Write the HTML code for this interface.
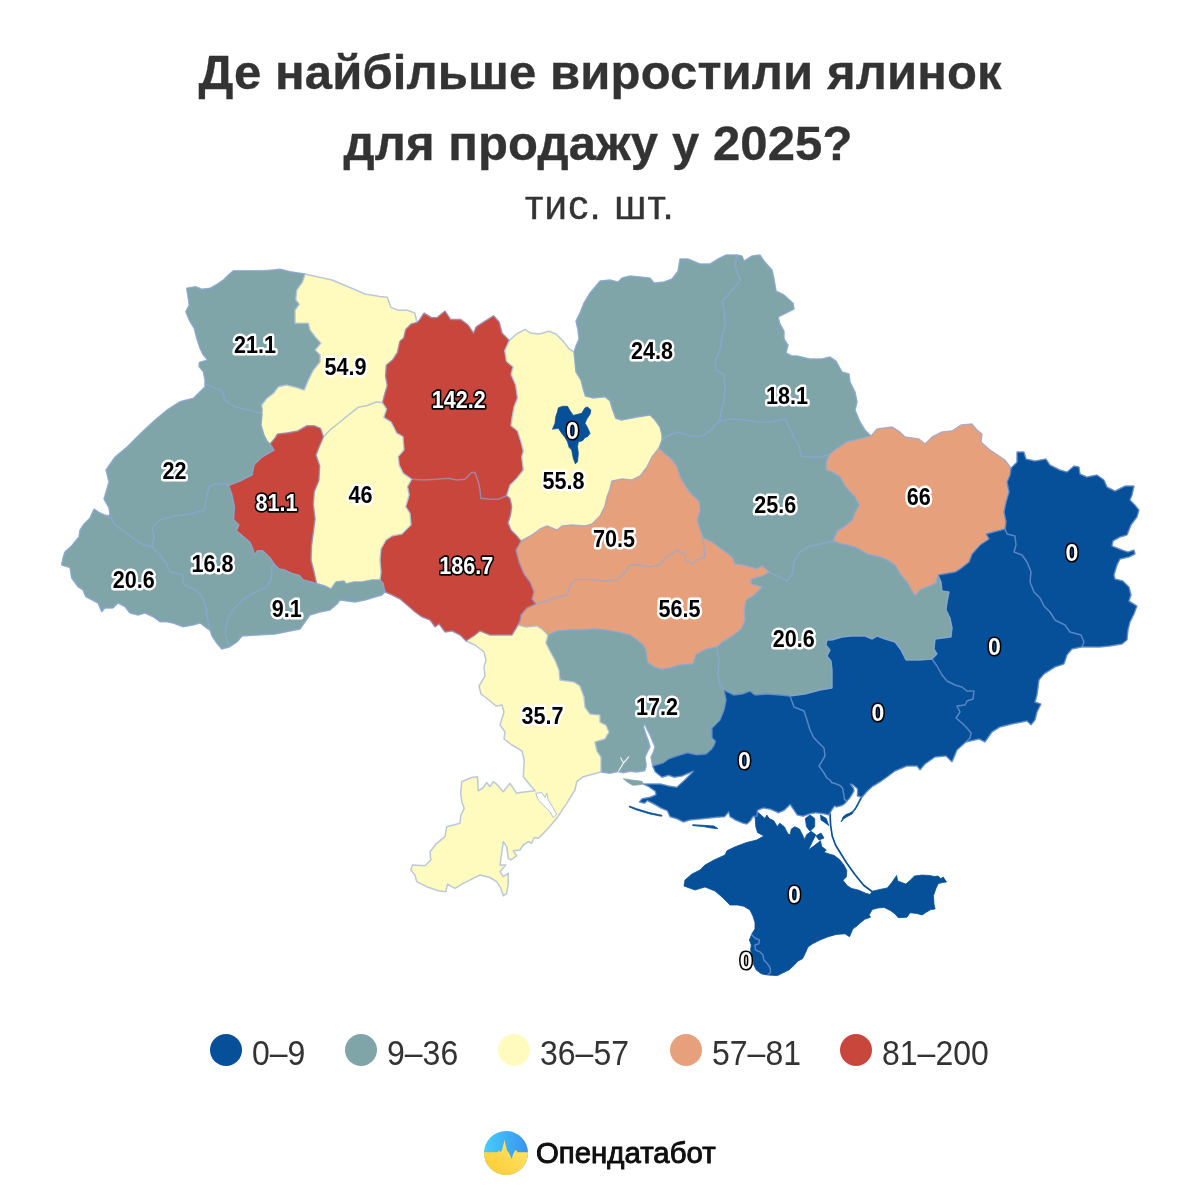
<!DOCTYPE html>
<html lang="uk">
<head>
<meta charset="utf-8">
<title>Де найбільше виростили ялинок для продажу у 2025?</title>
<style>
html,body{margin:0;padding:0;background:#fff;}
body{width:1200px;height:1200px;position:relative;overflow:hidden;font-family:"Liberation Sans",sans-serif;color:#333;}
.title{position:absolute;left:0;width:1200px;text-align:center;font-weight:bold;font-size:49px;line-height:70px;color:#333;white-space:nowrap;-webkit-text-stroke:0.35px #333;}
.t1{top:37px;letter-spacing:0.12px;}
.t2{top:107.5px;left:-2px;letter-spacing:0.1px;}
.sub{position:absolute;left:0;width:1200px;top:180px;text-align:center;letter-spacing:1.25px;font-size:40px;-webkit-text-stroke:0.4px #333;line-height:50px;color:#333;}
.leg{position:absolute;top:1038px;height:32px;font-size:32px;line-height:32px;transform:scaleY(1.08);transform-origin:50% 78%;color:#333;white-space:nowrap;}
.dot{position:absolute;top:1034px;width:32px;height:32px;border-radius:50%;}
.brand{position:absolute;left:536px;top:1135.7px;font-size:29.4px;line-height:34px;color:#111;-webkit-text-stroke:0.9px #080808;white-space:nowrap;}
</style>
</head>
<body>
<div class="title t1">Де найбільше виростили ялинок</div>
<div class="title t2">для продажу у 2025?</div>
<div class="sub">тис. шт.</div>
<svg width="1200" height="1200" viewBox="0 0 1200 1200" style="position:absolute;left:0;top:0">
<g stroke-linejoin="round" stroke-width="0.8">
<path fill="#80a5a9" stroke="#80a5a9" d="M205,384L205,380 203.3,371.7 199.2,366.7 199.2,362.5 207.5,360 203.3,355 200,348.3 196.7,338.3 194.2,328.3 190,321.7 185.8,311.7 189.2,305 188.3,298.3 186.7,288.3 195.8,286.7 201.7,289.2 210,288.3 215.8,285 223.3,280 228.3,275 233.3,270.8 246.7,270.8 263.3,270.8 273.3,270 280,269.2 290,271.7 305,274 302.5,281.7 296.7,290 295.8,300 299.2,304.2 295,310 295,323.3 308.3,323.3 310,330 315,336.7 320.8,343.3 315,350 320,355 320,361.7 313.3,370 308.3,380 304.2,390 296.7,387.5 286.7,385 278.3,386.7 273.3,393.3 266.7,398.3 261.7,405 262.5,410 262,414 250,410 235,407 225,400 222,391Z"/>
<path fill="#fffbbf" stroke="#fffbbf" d="M305,274L332,280 350,287.5 365,294 380,296.4 387.3,297.3 391,307.4 398.3,310.2 407.5,310.2 414.8,313 416,318 416.7,322.5 411,324 405.7,329.4 403.8,337.7 400,341 397.4,352.4 392.8,359.7 386.4,365 385.5,376 387.3,385.4 384.6,394.5 382.5,402.8 376.6,401.8 367.4,405.5 358.2,407.3 349,414.7 339.9,422 330.7,429.3 323.4,437 320.6,428.4 314.2,425.7 306.9,425.7 297.7,431 286.7,433 277.5,434 275,438 270,444 267,441 264,435 261,425 262,414 262.5,410 261.7,405 266.7,398.3 273.3,393.3 278.3,386.7 286.7,385 296.7,387.5 304.2,390 308.3,380 313.3,370 320,361.7 320,355 315,350 320.8,343.3 315,336.7 310,330 308.3,323.3 295,323.3 295,310 299.2,304.2 295.8,300 296.7,290 302.5,281.7Z"/>
<path fill="#c9463d" stroke="#c9463d" d="M416.7,322.5L419.4,320 424,313 431.4,317.5 437,317.5 445,311 450.6,319.4 460.7,319.4 468,324.8 473.5,333 476.3,326.7 483.6,322 493.7,315.7 499.2,322 502,333 509.3,340.4 504.7,350.5 506.5,361.5 513,367 511,374.3 515.7,385.3 517.5,398 514,407 512,418 511,425.7 517.5,431 521,442 523.3,451 521.7,456.7 523.3,470 516.7,478.3 510,485 506.7,495.8 498.3,499.2 490,499.2 480.8,498.3 480,490 478.3,481.7 475,472.5 471.7,472.5 465,479.2 456.7,480 448.3,478.3 436.7,479.2 423.3,480 411.7,479.2 403.3,473.3 399.2,465 398.3,456.7 404,450 403,436.7 396.7,433 391.2,422 383.8,417.4 386.6,409 382.5,402.8 384.6,394.5 387.3,385.4 385.5,376 386.4,365 392.8,359.7 397.4,352.4 400,341 403.8,337.7 405.7,329.4 411,324Z"/>
<path fill="#fffbbf" stroke="#fffbbf" d="M509.3,340.4L516.6,334 525,329.4 530.4,333 539.5,334 548.7,331.3 556,334 563.4,341.4 569,348.7 574,352 575,362 576,372 581,380 583,388 585.4,396 593.3,397.9 605,396.7 610,400.8 612.5,409.2 615.8,418.3 621.7,420 637,417 650,415 655,420 660,427 662,435 662,440 659,448 652,457 647,467 640,476 632,480 622,479 612,481 610,489 607,497 605,506 600,516 592,524 585,526 572,525 562,526 557,530 547,526 540,529 532,535 521,541 517,536 511,530 508,523 510.5,515 511.7,506.7 510,498.3 506.7,495.8 510,485 516.7,478.3 523.3,470 521.7,456.7 523.3,451 521,442 517.5,431 511,425.7 512,418 514,407 517.5,398 515.7,385.3 511,374.3 513,367 506.5,361.5 504.7,350.5Z"/>
<path fill="#80a5a9" stroke="#80a5a9" d="M574,352L576,346 579,339 578,330 576,321 580,313 584,303 590,293 600,281 610,280 618,282 622,278 630,276 640,277 650,278 654,283 664,282 672,279 678,271 680,259 688,259 700,264 710,264 718,259 726,255 737,255 735,265 738,275 741,280 734,288 728,295 722,301 724,310 725,325 722,337 720,350 715,362 716,370 724,375 725,387 724,400 721,412 720,421 715,425 710,431 702,436 690,436 677,432 667,436 662,440 662,435 660,427 655,420 650,415 637,417 621.7,420 615.8,418.3 612.5,409.2 610,400.8 605,396.7 593.3,397.9 585.4,396 583,388 581,380 576,372 575,362Z"/>
<path fill="#80a5a9" stroke="#80a5a9" d="M737,255L742,256 744,261 752,256 760,255 764,261 772,270 774,279 776,291 784,295 793,303 794,309 786,313 778,317 780,324 784,331 784,339 788,345 786,353 792,356 797,356 810,359 822,359 830,357 836,361 842,372 849,374 850,382 855,392 857,402 855,410 860,422 865,430 871,436 860,439 847,442 835,450 829,455 820,457 810,457 801,456 799,446 794,437 789,427 786,419 780,420 770,422 757,422 745,420 732,419 720,421 721,412 724,400 725,387 724,375 716,370 715,362 720,350 722,337 725,325 724,310 722,301 728,295 734,288 741,280 738,275 735,265Z"/>
<path fill="#e6a17c" stroke="#e6a17c" d="M871,436L877,429 892,427 900,432 905,437 919,439 925,444 932,437 942,432 952,431 961,425 972,424 977,430 982,434 981,442 990,450 999,456 1005,460 1011,468 1010,475 1007,482 1009,492 1006,502 1004,512 1006,522 1005,529 997,531 986,534 989,539 980,545 972,554 969,562 960,569 955,572 938,575 936,583 930,586 920,590 915,596 912,591 907,582 900,574 895,565 887,560 880,557 867,554 855,547 842,544 833,541 837,531 845,526 852,520 855,512 859,505 855,497 850,492 845,486 840,477 832,472 826,470 826,462 829,455 835,450 847,442 860,439Z"/>
<path fill="#06509a" stroke="#06509a" d="M1011,468L1017,462 1017,452 1024,452 1026,459 1035,461 1046,459 1050,465 1060,470 1067,472 1074,466 1079,467 1080,474 1087,477 1097,475 1104,480 1107,487 1115,491 1125,486 1134,486 1132,495 1130,500 1135,505 1139,510 1137,517 1131,525 1127,535 1120,537 1113,541 1112,546 1122,550 1128,552 1134,550 1135,554 1129,557 1120,559 1117,565 1114,575 1115,579 1123,581 1129,587 1131,595 1129,601 1137,606 1134,614 1130,622 1128,630 1127,640 1122,644 1110,646 1100,647 1082,647 1084,642 1081,635 1070,632 1065,625 1055,620 1050,612 1044,606 1040,598 1034,592 1030,582 1031,572 1027,562 1022,555 1014,552 1016,545 1015,536 1007,534 1005,529 1006,522 1004,512 1006,502 1009,492 1007,482 1010,475Z"/>
<path fill="#06509a" stroke="#06509a" d="M1005,529L1007,534 1015,536 1016,545 1014,552 1022,555 1027,562 1031,572 1030,582 1034,592 1040,598 1044,606 1050,612 1055,620 1065,625 1070,632 1081,635 1084,642 1082,647 1072,649 1067,655 1064,664 1055,667 1044,674 1039,680 1037,695 1035,702 1041,704 1037,712 1035,720 1031,725 1027,721 1012,724 1000,727 992,732 985,742 979,739 966,742 970,738 971,733 967,728 962,723 956,718 960,712 957,706 965,705 967,701 973,699 974,691 967,691 962,687 955,685 947,681 942,675 937,666 932,659 937,654 934,649 935,639 951,637 952,628 950,618 946,610 947,602 949,592 942,591 941,582 938,575 955,572 960,569 969,562 972,554 980,545 989,539 986,534 997,531Z"/>
<path fill="#06509a" stroke="#06509a" d="M932,659L937,666 942,675 947,681 955,685 962,687 967,691 974,691 973,699 967,701 965,705 957,706 960,712 956,718 962,723 967,728 971,733 970,738 966,742 957,750 952,762 946,756 935,757 925,764 920,770 917,766 907,766 895,771 887,777 880,782 872.5,786.5 867.5,791 864,795 862,797.5 861,797 857.3,796 857.5,792.5 857.5,789 856,787.5 853,785 850.5,784 853.5,788 854,791 852,794.5 849.5,798.5 847,801 844.5,799.5 843.5,793 842.5,788 840,785.5 835,783.5 831.5,782.5 830,780 827,778 824,773 819,766 825,756 824,748 814,738 810,730 807,720 804,711 794,707 790,696 805,694 820,690 832,688 832,670 831,661 827,656 830,650 826,645 827,640 832,640 842,637 852,636 865,636 872,639 877,636 885,639 895,642 901,650 906,660 920,660Z"/>
<path fill="#80a5a9" stroke="#80a5a9" d="M833,541L842,544 855,547 867,554 880,557 887,560 895,565 900,574 907,582 912,591 915,596 920,590 930,586 936,583 938,575 941,582 942,591 949,592 947,602 946,610 950,618 952,628 951,637 935,639 934,649 937,654 932,659 920,660 906,660 901,650 895,642 885,639 877,636 872,639 865,636 852,636 842,637 832,640 827,640 826,645 830,650 827,656 831,661 832,670 832,688 820,690 805,694 790,696 780,695 767,694 755,695 750,691 742,694 734,695 724,690 720,685 718,675 719,661 717,647 722,642 732,636 741,629 745,620 744,610 746,600 755,594 762,587 751,584 751,579 762,576 769,572 777,576 787,581 792,575 794,561 800,552 810,546 820,544Z"/>
<path fill="#80a5a9" stroke="#80a5a9" d="M720,421L732,419 745,420 757,422 770,422 780,420 786,419 789,427 794,437 799,446 801,456 810,457 820,457 829,455 826,462 826,470 832,472 840,477 845,486 850,492 855,497 859,505 855,512 852,520 845,526 837,531 833,541 820,544 810,546 800,552 794,561 792,575 787,581 777,576 769,572 762,566 757,569 750,567 742,565 735,564 732,557 725,552 717,546 710,541 703,538 700,530 697,520 700,510 699,501 692,495 686,487 680,477 677,467 672,460 665,454 659,448 662,440 667,436 677,432 690,436 702,436 710,431 715,425Z"/>
<path fill="#e6a17c" stroke="#e6a17c" d="M521,541L532,535 540,529 547,526 557,530 562,526 572,525 585,526 592,524 600,516 605,506 607,497 610,489 612,481 622,479 632,480 640,476 647,467 652,457 659,448 665,454 672,460 677,467 680,477 686,487 692,495 699,501 700,510 697,520 700,530 703,538 704,547 705,557 697,560 692,564 686,560 685,554 676,550 672,554 666,557 660,565 650,567 640,565 630,565 625,572 617,580 605,581 595,580 585,579 575,580 570,586 567,595 557,597 547,601 536,604 532,599 534,592 530,582 524,574 519,562 516,550Z"/>
<path fill="#e6a17c" stroke="#e6a17c" d="M536,604L547,601 557,597 567,595 570,586 575,580 585,579 595,580 605,581 617,580 625,572 630,565 640,565 650,567 660,565 666,557 672,554 676,550 685,554 686,560 692,564 697,560 705,557 704,547 703,538 710,541 717,546 725,552 732,557 735,564 742,565 750,567 757,569 762,566 769,572 762,576 751,579 751,584 762,587 755,594 746,600 744,610 745,620 741,629 732,636 722,642 717,647 706,649.3 696,654.8 693.2,664 685,664.5 676.7,665.8 670,668 662,669.5 654,667 647.4,662.2 646.5,656 645.6,650 643,645 637,640 630,635 617,632 605,630 595,629 582,630 570,630 557,631 548,635 543,630 537,626 526,627 518,625 520,621 521,615 527,608Z"/>
<path fill="#80a5a9" stroke="#80a5a9" d="M548,635L557,631 570,630 582,630 595,629 605,630 617,632 630,635 637,640 643,645 645.6,650 646.5,656 647.4,662.2 654,667 662,669.5 670,668 676.7,665.8 685,664.5 693.2,664 696,654.8 706,649.3 717,647 719,661 718,675 720,685 724,690 726,700 724,710 720,720 712,728 712,738 715.3,741.3 714,745.3 711.3,749.3 706,754 696.7,754.7 687.3,752.7 676.7,756 668.7,758.7 663.3,762.7 652.7,766 651,757 653.5,752 655,746.7 652.5,741 650,735 647,729 644.5,723.5 643.5,727 646,735 648.5,741.3 650,746.7 647.3,752 645,757.3 646,764 646,766.7 644.7,770.7 636.7,772 630,771.3 623.3,772.7 618,771.5 610,773.3 601,772 601,757 597,751 595,742 605,739 609,732 606,725 600,722 600,715 590,714 585,707 584,697 580,686 574,682 560,680 559,670 555,660 550,651 546,643Z"/>
<path fill="#06509a" stroke="#06509a" d="M724,690L734,695 742,694 750,691 755,695 767,694 780,695 790,696 794,707 804,711 807,720 810,730 814,738 824,748 825,756 819,766 824,773 827,778 830,780 831.5,782.5 835,783.5 840,785.5 842.5,788 843.5,793 844.5,799.5 847,801 845,803.5 842,805.5 836.5,807 834.5,806 832.5,809 830,813 828.7,815 824,813.8 815.8,812.7 810,813.8 803,816.2 797.2,815 792.5,808 790.2,804.5 784.3,810.3 778.5,812.7 770.3,809.2 763.3,808 757.5,810.3 757,816 753,816.5 750.5,820.8 747,824 743.3,823.3 735.3,820 730,816.7 728.7,812 724.7,816.7 716.7,817.3 703.3,818.7 690,820 683.3,822 676.7,818.7 670,816.7 667.3,810.7 660.7,808 654,804 647.3,800.7 644.7,803.3 639.3,802 642,798.7 650,797.3 656,794.7 655.3,791.3 648.7,786.7 643.3,784 652.7,784 660.7,784 668.7,786 676.7,787.3 684.7,780 693.3,771.3 682,776 674,777.3 668.7,775.3 662,777.3 655.3,772 652.7,766 663.3,762.7 668.7,758.7 676.7,756 687.3,752.7 696.7,754.7 706,754 711.3,749.3 714,745.3 715.3,741.3 712,738 712,728 720,720 724,710 726,700Z"/>
<path fill="#fffbbf" stroke="#fffbbf" d="M466,641L475,635 480,631 490,635 500,635 512,635 515,630 518,625 526,627 537,626 543,630 548,635 546,643 550,651 555,660 559,670 560,680 574,682 580,686 584,697 585,707 590,714 600,715 600,722 606,725 609,732 605,739 595,742 597,751 601,757 601,772 583.3,776.7 576.7,781.7 575,790 566.7,803.3 556.7,818.3 546.7,830 538.3,838.3 534.2,837.5 531.7,843.3 528.3,841.7 523.3,845 520,850 513.3,850.8 516.7,855.8 510.8,860 508.3,858.3 506.7,846.7 503.3,841.7 501.7,853.3 500,865 505.8,865 500,871.7 503.3,876.7 508.3,873.3 508.3,883.3 506.7,893.3 503.3,895.8 500.8,888.3 496.7,881.7 490,877.5 480,875 471.7,879.2 463.3,883.3 455,888.3 447.5,884.2 445.8,891.7 438.3,890.8 426.7,886.7 416.7,881.7 415,875 410.8,870 412.5,865 425,865.8 430.8,860 430,851.7 436.7,843.3 445,836.7 446.7,826.7 460,823.3 460.8,815 464.2,808.3 461.7,801.7 460.8,793.3 461.7,781.7 471.7,777.5 477.5,776.7 478.3,790.8 483.3,787.5 486.7,782.5 490,786.7 493.3,781.7 495.8,783.3 503.3,791.7 510,783.3 516.7,793.3 520,792.5 535,790.8 530,785 523.3,776.7 524.2,760 522,751 512,745 504,739 505,732 500,725 504,712 502,705 496,706 489,700 481,694 479,686 485,676 484,667 486,660 484,652 475,645Z"/>
<path fill="#c9463d" stroke="#c9463d" d="M411.7,479.2L423.3,480 436.7,479.2 448.3,478.3 456.7,480 465,479.2 471.7,472.5 475,472.5 478.3,481.7 480,490 480.8,498.3 490,499.2 498.3,499.2 506.7,495.8 510,498.3 511.7,506.7 510.5,515 508,523 511,530 517,536 521,541 516,550 519,562 524,574 530,582 534,592 532,599 536,604 527,608 521,615 520,621 518,625 515,630 512,635 500,635 490,635 480,631 475,635 466,641 460,635 452,631 445,632 439,624 435,627 430,620 422,617 415,612 407,605 400,599 392,595 385,592 384,588 383,583 380,580 381,572 380,560 381,549 386,540 392,536 402,534 411,525 410,513.3 405.8,506.7 409.2,495 407.5,486.7Z"/>
<path fill="#fffbbf" stroke="#fffbbf" d="M323.4,437L330.7,429.3 339.9,422 349,414.7 358.2,407.3 367.4,405.5 376.6,401.8 382.5,402.8 386.6,409 383.8,417.4 391.2,422 396.7,433 403,436.7 404,450 398.3,456.7 399.2,465 403.3,473.3 411.7,479.2 407.5,486.7 409.2,495 405.8,506.7 410,513.3 411,525 402,534 392,536 386,540 381,549 380,560 381,572 380,580 372,580 362,582 354,582 346,584 344,581 336,582 331,589 325,586 316.5,583.5 314,572 311,560 311.4,546.7 313.3,532 315,519 313.3,504.5 314.2,491.7 318.8,480.7 319.7,466 316,455 318.8,447.7Z"/>
<path fill="#c9463d" stroke="#c9463d" d="M270,444L275,438 277.5,434 286.7,433 297.7,431 306.9,425.7 314.2,425.7 320.6,428.4 323.4,437 318.8,447.7 316,455 319.7,466 318.8,480.7 314.2,491.7 313.3,504.5 315,519 313.3,532 311.4,546.7 311,560 314,572 316.5,583.5 310.5,581.8 303.2,580 299.5,575.4 292.2,573.6 284.8,570 279.3,569 274.5,564.5 270.2,558 262.8,550.7 257.3,550.7 254.6,555.3 252.8,548.8 250,542.4 242.7,536 236.3,530.5 239,525 233.5,519.5 234.4,506.7 231.7,493.8 228.5,485.5 240,481 252,475 254,465 262,457 274,450Z"/>
<path fill="#80a5a9" stroke="#80a5a9" d="M274.5,564.5L279.3,569 284.8,570 292.2,573.6 299.5,575.4 303.2,580 310.5,581.8 316.5,583.5 325,586 331,589 336,582 344,581 346,584 354,582 362,582 372,580 380,580 383,583 384,588 385,592 382,595 375,597 365,600 355,602 347,601 340,600 337,604 330,610 320,612 310,615 305,622 300,629 290,631 275,634 257,635 242,636 237,642 231,646 229,647 225.3,635 227,620.3 233.5,609.3 242.7,600 253.7,592.8 266.5,587.3 271,580 272,567Z"/>
<path fill="#80a5a9" stroke="#80a5a9" d="M228.5,485.5L231.7,493.8 234.4,506.7 233.5,519.5 239,525 236.3,530.5 242.7,536 250,542.4 252.8,548.8 254.6,555.3 257.3,550.7 262.8,550.7 270.2,558 274.5,564.5 272,567 271,580 266.5,587.3 253.7,592.8 242.7,600 233.5,609.3 227,620.3 225.3,635 229,647 221.7,649 216.7,643 212,636 210,630 207,617 206,607 202,597 195,589 184,585 182,574 170,572 167,565 160,555 152,547 154,537 152,527 160,520 175,516 190,514 205,510 206,500 209,487 215,484 225,484Z"/>
<path fill="#80a5a9" stroke="#80a5a9" d="M110,515L115,525 125,532 135,540 144,545 152,547 160,555 167,565 170,572 182,574 184,585 195,589 202,597 206,607 207,617 210,630 206.7,628 200,623 193,625 183,626.7 173,623 166.7,621.7 160,621.7 153,616.7 145,613 138,615 130,613 125,606.7 118,603 113,608 105,608 101.7,611.7 98,603 85.8,596.7 83,590 78,586.7 71.7,578 70,567.5 61.7,565 63,558 65,551.7 71.7,545.8 79,536.7 80,530 84,524 90,518 94,509 100,513 106.7,515.8Z"/>
<path fill="#80a5a9" stroke="#80a5a9" d="M110,515L109,508 104,499 109,482 106,470 115,457 127,447 142,432 155,420 167,410 180,401.7 193.3,398.3 200,391.7 205,386.7 205,384 222,391 225,400 235,407 250,410 262,414 261,425 264,435 267,441 270,444 274,450 262,457 254,465 252,475 240,481 228.5,485.5 225,484 215,484 209,487 206,500 205,510 190,514 175,516 160,520 152,527 154,537 152,547 144,545 135,540 125,532 115,525Z"/>
<path fill="#06509a" stroke="#06509a" d="M558.3,407.9L562.5,406.3 567.5,406.3 570,410.8 573.3,415.4 576.7,414.6 581.7,413.3 585,407.9 587.5,407 590.8,410 590,414.2 586.7,419.2 585,423.3 587.5,427.5 590,433.3 587.5,436.7 585,437.5 582.5,440.8 578.3,441.7 577.5,446.7 578.3,453.3 577.5,461.7 575.4,463.8 573.3,458.3 571.7,450 569.2,447.5 567.5,441.7 565,437.5 561.7,433.3 558.3,428.3 552.5,429.2 555,423.3 555.8,416.7 557.5,411.7Z"/>
<path fill="#06509a" stroke="#06509a" d="M753,816.5L757,816 757.5,812 761,815 765,818.5 766.8,815 769.2,818.5 773.8,820.8 777.3,826.7 779.7,823.2 784.3,826.7 787.8,833.7 790.2,834.8 791.3,829 794.8,826.7 799.5,829 803,836 804.8,839.5 806.5,834.8 811.2,831.3 815.8,834.8 812.3,841.8 808.3,850 814.7,845.3 820.5,840.7 821.7,846.5 826.3,850 824,852.3 830,854.3 834.3,855.4 839.8,859.8 844,865.2 846.8,870.6 846.3,877 843,880.3 847.3,885.8 851.7,888.5 858.2,890 865.8,893.3 870,894.5 872.3,891.2 879.8,889.5 887.4,887.9 891.8,882.5 896.6,875.5 897.7,880.9 905.8,884.1 910.2,880.3 914.5,876 922.1,875.1 929.7,875.5 934,876.5 938.3,876 940.5,878.7 943.2,877.1 946.5,882 942.7,882.5 938.3,883.6 936.2,887.9 933.5,895.5 934,904.2 935.1,909 930.8,909.6 925.3,912.8 922.1,915 916.7,913.4 910.2,912.8 906.9,917.2 898.3,917.7 895,913.9 890.7,910.7 884.2,907.4 877.7,908 872.3,909.6 869,915 870.6,917.2 864.7,919.3 859.3,923.7 857.1,925.8 852.8,929.1 849.5,936.7 845,933.8 836.3,934.4 827.5,936.9 820,940 812.5,943.8 808,946.9 805,953.8 802.5,958.8 798,961 793.8,965.6 788.8,970 782.5,973 777.5,975.6 767.5,975 761.3,973.8 756.3,970 753.8,965 752.5,957.5 750.6,950 751.3,945 749.4,940 751.9,933.8 755,928.8 755,922.5 753,916.3 750,910 743.8,906.3 737.5,905 730,905 722,897 715,891 705,887 695,890 684,886 685,880 692,874 700,870 705,865 714,860 725,855 727,850.7 735.3,846.7 746,842.7 756.7,840 763.9,836 757.5,832.5 755.8,826.7 755.2,817.3Z"/>
<path fill="#06509a" stroke="#06509a" d="M629.3,806L636.7,808.7 650,812.7 662,815.3 661.5,816.3 650,814 636.7,810 629.3,807Z"/>
<path fill="#06509a" stroke="#06509a" d="M692.7,824.7L703.3,825.3 714,826 718,828.7 711.3,828 703.3,826.6 692.7,825.6Z"/>
<path fill="#06509a" stroke="#06509a" d="M862,797.5L860,801 857.5,806 855,810 853,812.5 852,814 847.5,816.5 844,818.5 841,822 842,820 843,817 846,814.5 850,813 853,811 855.5,807.5 858,803 860,799 861,797Z"/>
<path fill="#80a5a9" stroke="#80a5a9" d="M623.3,778.7L631.3,780 642,781.3 643.3,784 639.3,784.7 632.7,785.3 627.3,782Z"/>
<path fill="#06509a" stroke="#06509a" d="M805.3,818.5L810,815 814.7,818.5 814.7,826.7 810,831.3 806.5,826.7Z"/>
<path fill="#06509a" stroke="#06509a" d="M820.5,815L826.3,818.5 828.7,825.5 824,822 821,820Z"/>
<path fill="#06509a" stroke="#06509a" d="M816,836L821,833 824,838 819,840Z"/>
<path fill="#fff" stroke="#8ca8e1" stroke-width="0.7" d="M535.8,793.3L538.3,800 545,806.7 550,811.7 553.3,817.5 556.7,814.2 552.5,806.7 548.3,800 546.7,793.3 545,797.5 541.7,792.5Z"/>
<path fill="none" stroke="#06509a" stroke-width="1.7" d="M830,813L830.6,825 832.2,836 835.5,845 839.8,852 846.3,862.5 854.9,874.5 863.6,885.3 872,891.5"/>
<path fill="none" stroke="#fff" stroke-opacity="0.85" stroke-width="1.2" d="M618,772L623.5,763 620.5,757.5"/>
<path fill="none" stroke="#fff" stroke-opacity="0.85" stroke-width="1.2" d="M623.5,763L629,756.6"/>
</g>
<g fill="none" stroke="#8ca8e1" stroke-width="1.5" stroke-linejoin="round" stroke-linecap="round" opacity="0.6">
<path d="M205,384L205,380 203.3,371.7 199.2,366.7 199.2,362.5 207.5,360 203.3,355 200,348.3 196.7,338.3 194.2,328.3 190,321.7 185.8,311.7 189.2,305 188.3,298.3 186.7,288.3 195.8,286.7 201.7,289.2 210,288.3 215.8,285 223.3,280 228.3,275 233.3,270.8 246.7,270.8 263.3,270.8 273.3,270 280,269.2 290,271.7 305,274"/>
<path d="M305,274L332,280 350,287.5 365,294 380,296.4 387.3,297.3 391,307.4 398.3,310.2 407.5,310.2 414.8,313 416,318 416.7,322.5"/>
<path d="M416.7,322.5L419.4,320 424,313 431.4,317.5 437,317.5 445,311 450.6,319.4 460.7,319.4 468,324.8 473.5,333 476.3,326.7 483.6,322 493.7,315.7 499.2,322 502,333 509.3,340.4"/>
<path d="M509.3,340.4L516.6,334 525,329.4 530.4,333 539.5,334 548.7,331.3 556,334 563.4,341.4 569,348.7 574,352"/>
<path d="M574,352L576,346 579,339 578,330 576,321 580,313 584,303 590,293 600,281 610,280 618,282 622,278 630,276 640,277 650,278 654,283 664,282 672,279 678,271 680,259 688,259 700,264 710,264 718,259 726,255 737,255"/>
<path d="M737,255L742,256 744,261 752,256 760,255 764,261 772,270 774,279 776,291 784,295 793,303 794,309 786,313 778,317 780,324 784,331 784,339 788,345 786,353 792,356 797,356 810,359 822,359 830,357 836,361 842,372 849,374 850,382 855,392 857,402 855,410 860,422 865,430 871,436"/>
<path d="M871,436L877,429 892,427 900,432 905,437 919,439 925,444 932,437 942,432 952,431 961,425 972,424 977,430 982,434 981,442 990,450 999,456 1005,460 1011,468"/>
<path d="M1011,468L1017,462 1017,452 1024,452 1026,459 1035,461 1046,459 1050,465 1060,470 1067,472 1074,466 1079,467 1080,474 1087,477 1097,475 1104,480 1107,487 1115,491 1125,486 1134,486 1132,495 1130,500 1135,505 1139,510 1137,517 1131,525 1127,535 1120,537 1113,541 1112,546 1122,550 1128,552 1134,550 1135,554 1129,557 1120,559 1117,565 1114,575 1115,579 1123,581 1129,587 1131,595 1129,601 1137,606 1134,614 1130,622 1128,630 1127,640 1122,644 1110,646 1100,647 1082,647"/>
<path d="M1082,647L1072,649 1067,655 1064,664 1055,667 1044,674 1039,680 1037,695 1035,702 1041,704 1037,712 1035,720 1031,725 1027,721 1012,724 1000,727 992,732 985,742 979,739 966,742"/>
<path d="M966,742L957,750 952,762 946,756 935,757 925,764 920,770 917,766 907,766 895,771 887,777 880,782 872.5,786.5 867.5,791 864,795 862,797.5 861,797 857.3,796 857.5,792.5 857.5,789 856,787.5 853,785 850.5,784 853.5,788 854,791 852,794.5 849.5,798.5 847,801"/>
<path d="M847,801L845,803.5 842,805.5 836.5,807 834.5,806 832.5,809 830,813 828.7,815 824,813.8 815.8,812.7 810,813.8 803,816.2 797.2,815 792.5,808 790.2,804.5 784.3,810.3 778.5,812.7 770.3,809.2 763.3,808 757.5,810.3 757,816 753,816.5 750.5,820.8 747,824 743.3,823.3 735.3,820 730,816.7 728.7,812 724.7,816.7 716.7,817.3 703.3,818.7 690,820 683.3,822 676.7,818.7 670,816.7 667.3,810.7 660.7,808 654,804 647.3,800.7 644.7,803.3 639.3,802 642,798.7 650,797.3 656,794.7 655.3,791.3 648.7,786.7 643.3,784 652.7,784 660.7,784 668.7,786 676.7,787.3 684.7,780 693.3,771.3 682,776 674,777.3 668.7,775.3 662,777.3 655.3,772 652.7,766"/>
<path d="M652.7,766L651,757 653.5,752 655,746.7 652.5,741 650,735 647,729 644.5,723.5 643.5,727 646,735 648.5,741.3 650,746.7 647.3,752 645,757.3 646,764 646,766.7 644.7,770.7 636.7,772 630,771.3 623.3,772.7 618,771.5 610,773.3 601,772"/>
<path d="M601,772L583.3,776.7 576.7,781.7 575,790 566.7,803.3 556.7,818.3 546.7,830 538.3,838.3 534.2,837.5 531.7,843.3 528.3,841.7 523.3,845 520,850 513.3,850.8 516.7,855.8 510.8,860 508.3,858.3 506.7,846.7 503.3,841.7 501.7,853.3 500,865 505.8,865 500,871.7 503.3,876.7 508.3,873.3 508.3,883.3 506.7,893.3 503.3,895.8 500.8,888.3 496.7,881.7 490,877.5 480,875 471.7,879.2 463.3,883.3 455,888.3 447.5,884.2 445.8,891.7 438.3,890.8 426.7,886.7 416.7,881.7 415,875 410.8,870 412.5,865 425,865.8 430.8,860 430,851.7 436.7,843.3 445,836.7 446.7,826.7 460,823.3 460.8,815 464.2,808.3 461.7,801.7 460.8,793.3 461.7,781.7 471.7,777.5 477.5,776.7 478.3,790.8 483.3,787.5 486.7,782.5 490,786.7 493.3,781.7 495.8,783.3 503.3,791.7 510,783.3 516.7,793.3 520,792.5 535,790.8 530,785 523.3,776.7 524.2,760 522,751 512,745 504,739 505,732 500,725 504,712 502,705 496,706 489,700 481,694 479,686 485,676 484,667 486,660 484,652 475,645 466,641"/>
<path d="M466,641L460,635 452,631 445,632 439,624 435,627 430,620 422,617 415,612 407,605 400,599 392,595 385,592"/>
<path d="M385,592L382,595 375,597 365,600 355,602 347,601 340,600 337,604 330,610 320,612 310,615 305,622 300,629 290,631 275,634 257,635 242,636 237,642 231,646 229,647"/>
<path d="M229,647L221.7,649 216.7,643 212,636 210,630"/>
<path d="M210,630L206.7,628 200,623 193,625 183,626.7 173,623 166.7,621.7 160,621.7 153,616.7 145,613 138,615 130,613 125,606.7 118,603 113,608 105,608 101.7,611.7 98,603 85.8,596.7 83,590 78,586.7 71.7,578 70,567.5 61.7,565 63,558 65,551.7 71.7,545.8 79,536.7 80,530 84,524 90,518 94,509 100,513 106.7,515.8 110,515"/>
<path d="M110,515L109,508 104,499 109,482 106,470 115,457 127,447 142,432 155,420 167,410 180,401.7 193.3,398.3 200,391.7 205,386.7 205,384"/>
<path d="M305,274L302.5,281.7 296.7,290 295.8,300 299.2,304.2 295,310 295,323.3 308.3,323.3 310,330 315,336.7 320.8,343.3 315,350 320,355 320,361.7 313.3,370 308.3,380 304.2,390 296.7,387.5 286.7,385 278.3,386.7 273.3,393.3 266.7,398.3 261.7,405 262.5,410 262,414"/>
<path d="M205,384L222,391 225,400 235,407 250,410 262,414"/>
<path d="M262,414L261,425 264,435 267,441 270,444"/>
<path d="M270,444L275,438 277.5,434 286.7,433 297.7,431 306.9,425.7 314.2,425.7 320.6,428.4 323.4,437"/>
<path d="M323.4,437L330.7,429.3 339.9,422 349,414.7 358.2,407.3 367.4,405.5 376.6,401.8 382.5,402.8"/>
<path d="M416.7,322.5L411,324 405.7,329.4 403.8,337.7 400,341 397.4,352.4 392.8,359.7 386.4,365 385.5,376 387.3,385.4 384.6,394.5 382.5,402.8"/>
<path d="M382.5,402.8L386.6,409 383.8,417.4 391.2,422 396.7,433 403,436.7 404,450 398.3,456.7 399.2,465 403.3,473.3 411.7,479.2"/>
<path d="M411.7,479.2L423.3,480 436.7,479.2 448.3,478.3 456.7,480 465,479.2 471.7,472.5 475,472.5 478.3,481.7 480,490 480.8,498.3 490,499.2 498.3,499.2 506.7,495.8"/>
<path d="M509.3,340.4L504.7,350.5 506.5,361.5 513,367 511,374.3 515.7,385.3 517.5,398 514,407 512,418 511,425.7 517.5,431 521,442 523.3,451 521.7,456.7 523.3,470 516.7,478.3 510,485 506.7,495.8"/>
<path d="M574,352L575,362 576,372 581,380 583,388 585.4,396 593.3,397.9 605,396.7 610,400.8 612.5,409.2 615.8,418.3 621.7,420 637,417 650,415 655,420 660,427 662,435 662,440"/>
<path d="M662,440L659,448"/>
<path d="M521,541L532,535 540,529 547,526 557,530 562,526 572,525 585,526 592,524 600,516 605,506 607,497 610,489 612,481 622,479 632,480 640,476 647,467 652,457 659,448"/>
<path d="M506.7,495.8L510,498.3 511.7,506.7 510.5,515 508,523 511,530 517,536 521,541"/>
<path d="M737,255L735,265 738,275 741,280 734,288 728,295 722,301 724,310 725,325 722,337 720,350 715,362 716,370 724,375 725,387 724,400 721,412 720,421"/>
<path d="M720,421L715,425 710,431 702,436 690,436 677,432 667,436 662,440"/>
<path d="M720,421L732,419 745,420 757,422 770,422 780,420 786,419 789,427 794,437 799,446 801,456 810,457 820,457 829,455"/>
<path d="M829,455L835,450 847,442 860,439 871,436"/>
<path d="M829,455L826,462 826,470 832,472 840,477 845,486 850,492 855,497 859,505 855,512 852,520 845,526 837,531 833,541"/>
<path d="M659,448L665,454 672,460 677,467 680,477 686,487 692,495 699,501 700,510 697,520 700,530 703,538"/>
<path d="M703,538L710,541 717,546 725,552 732,557 735,564 742,565 750,567 757,569 762,566 769,572"/>
<path d="M769,572L777,576 787,581 792,575 794,561 800,552 810,546 820,544 833,541"/>
<path d="M833,541L842,544 855,547 867,554 880,557 887,560 895,565 900,574 907,582 912,591 915,596 920,590 930,586 936,583 938,575"/>
<path d="M938,575L955,572 960,569 969,562 972,554 980,545 989,539 986,534 997,531 1005,529"/>
<path d="M1011,468L1010,475 1007,482 1009,492 1006,502 1004,512 1006,522 1005,529"/>
<path d="M1005,529L1007,534 1015,536 1016,545 1014,552 1022,555 1027,562 1031,572 1030,582 1034,592 1040,598 1044,606 1050,612 1055,620 1065,625 1070,632 1081,635 1084,642 1082,647"/>
<path d="M938,575L941,582 942,591 949,592 947,602 946,610 950,618 952,628 951,637 935,639 934,649 937,654 932,659"/>
<path d="M932,659L920,660 906,660 901,650 895,642 885,639 877,636 872,639 865,636 852,636 842,637 832,640 827,640 826,645 830,650 827,656 831,661 832,670 832,688 820,690 805,694 790,696"/>
<path d="M932,659L937,666 942,675 947,681 955,685 962,687 967,691 974,691 973,699 967,701 965,705 957,706 960,712 956,718 962,723 967,728 971,733 970,738 966,742"/>
<path d="M790,696L780,695 767,694 755,695 750,691 742,694 734,695 724,690"/>
<path d="M790,696L794,707 804,711 807,720 810,730 814,738 824,748 825,756 819,766 824,773 827,778 830,780 831.5,782.5 835,783.5 840,785.5 842.5,788 843.5,793 844.5,799.5 847,801"/>
<path d="M717,647L719,661 718,675 720,685 724,690"/>
<path d="M769,572L762,576 751,579 751,584 762,587 755,594 746,600 744,610 745,620 741,629 732,636 722,642 717,647"/>
<path d="M548,635L557,631 570,630 582,630 595,629 605,630 617,632 630,635 637,640 643,645 645.6,650 646.5,656 647.4,662.2 654,667 662,669.5 670,668 676.7,665.8 685,664.5 693.2,664 696,654.8 706,649.3 717,647"/>
<path d="M724,690L726,700 724,710 720,720 712,728 712,738 715.3,741.3 714,745.3 711.3,749.3 706,754 696.7,754.7 687.3,752.7 676.7,756 668.7,758.7 663.3,762.7 652.7,766"/>
<path d="M548,635L546,643 550,651 555,660 559,670 560,680 574,682 580,686 584,697 585,707 590,714 600,715 600,722 606,725 609,732 605,739 595,742 597,751 601,757 601,772"/>
<path d="M518,625L526,627 537,626 543,630 548,635"/>
<path d="M466,641L475,635 480,631 490,635 500,635 512,635 515,630 518,625"/>
<path d="M518,625L520,621 521,615 527,608 536,604"/>
<path d="M521,541L516,550 519,562 524,574 530,582 534,592 532,599 536,604"/>
<path d="M536,604L547,601 557,597 567,595 570,586 575,580 585,579 595,580 605,581 617,580 625,572 630,565 640,565 650,567 660,565 666,557 672,554 676,550 685,554 686,560 692,564 697,560 705,557 704,547 703,538"/>
<path d="M411.7,479.2L407.5,486.7 409.2,495 405.8,506.7 410,513.3 411,525 402,534 392,536 386,540 381,549 380,560 381,572 380,580"/>
<path d="M380,580L383,583 384,588 385,592"/>
<path d="M316.5,583.5L325,586 331,589 336,582 344,581 346,584 354,582 362,582 372,580 380,580"/>
<path d="M323.4,437L318.8,447.7 316,455 319.7,466 318.8,480.7 314.2,491.7 313.3,504.5 315,519 313.3,532 311.4,546.7 311,560 314,572 316.5,583.5"/>
<path d="M274.5,564.5L279.3,569 284.8,570 292.2,573.6 299.5,575.4 303.2,580 310.5,581.8 316.5,583.5"/>
<path d="M270,444L274,450 262,457 254,465 252,475 240,481 228.5,485.5"/>
<path d="M228.5,485.5L231.7,493.8 234.4,506.7 233.5,519.5 239,525 236.3,530.5 242.7,536 250,542.4 252.8,548.8 254.6,555.3 257.3,550.7 262.8,550.7 270.2,558 274.5,564.5"/>
<path d="M274.5,564.5L272,567 271,580 266.5,587.3 253.7,592.8 242.7,600 233.5,609.3 227,620.3 225.3,635 229,647"/>
<path d="M228.5,485.5L225,484 215,484 209,487 206,500 205,510 190,514 175,516 160,520 152,527 154,537 152,547"/>
<path d="M110,515L115,525 125,532 135,540 144,545 152,547"/>
<path d="M152,547L160,555 167,565 170,572 182,574 184,585 195,589 202,597 206,607 207,617 210,630"/>
<path d="M751.9,935L755,938 759.4,940 758.8,943.8 755,945 755.6,950 760,951.9 763,955 763.8,960 767.5,963.8 770,967.5 770.6,972.5 768,974.5"/>
</g>
<g font-family="'Liberation Sans',sans-serif" font-weight="bold" font-size="21.6" text-anchor="middle" stroke-width="4.4" stroke-linejoin="round" paint-order="stroke" style="paint-order:stroke">
<text transform="translate(255,353.3) scale(1,1.07)" fill="#000" stroke="#fff" stroke-width="4.6">21.1</text>
<text transform="translate(345.6,375) scale(1,1.07)" fill="#000" stroke="#fff" stroke-width="4.6">54.9</text>
<text transform="translate(458.8,408.1) scale(1,1.07)" fill="#fff" stroke="#000" stroke-width="3.2">142.2</text>
<text transform="translate(652,358.7) scale(1,1.07)" fill="#000" stroke="#fff" stroke-width="4.6">24.8</text>
<text transform="translate(786.9,404.3) scale(1,1.07)" fill="#000" stroke="#fff" stroke-width="4.6">18.1</text>
<text x="572.5" y="438.7" font-size="23" fill="#fff" stroke="#000" stroke-width="3.2">0</text>
<text transform="translate(563.4,488.7) scale(1,1.07)" fill="#000" stroke="#fff" stroke-width="4.6">55.8</text>
<text transform="translate(174.4,479.2) scale(1,1.07)" fill="#000" stroke="#fff" stroke-width="4.6">22</text>
<text transform="translate(276.5,511.2) scale(1,1.07)" fill="#fff" stroke="#000" stroke-width="3.2">81.1</text>
<text transform="translate(360.6,503.1) scale(1,1.07)" fill="#000" stroke="#fff" stroke-width="4.6">46</text>
<text transform="translate(614,546.7) scale(1,1.07)" fill="#000" stroke="#fff" stroke-width="4.6">70.5</text>
<text transform="translate(775.3,513.1) scale(1,1.07)" fill="#000" stroke="#fff" stroke-width="4.6">25.6</text>
<text transform="translate(918.8,505) scale(1,1.07)" fill="#000" stroke="#fff" stroke-width="4.6">66</text>
<text x="1072" y="561.2" font-size="23" fill="#fff" stroke="#000" stroke-width="3.2">0</text>
<text transform="translate(466.3,573.7) scale(1,1.07)" fill="#fff" stroke="#000" stroke-width="3.2">186.7</text>
<text transform="translate(212.4,572) scale(1,1.07)" fill="#000" stroke="#fff" stroke-width="4.6">16.8</text>
<text transform="translate(133.8,587.5) scale(1,1.07)" fill="#000" stroke="#fff" stroke-width="4.6">20.6</text>
<text transform="translate(286.7,616.5) scale(1,1.07)" fill="#000" stroke="#fff" stroke-width="4.6">9.1</text>
<text transform="translate(679.4,616.7) scale(1,1.07)" fill="#000" stroke="#fff" stroke-width="4.6">56.5</text>
<text transform="translate(793.8,646.7) scale(1,1.07)" fill="#000" stroke="#fff" stroke-width="4.6">20.6</text>
<text x="994.4" y="655" font-size="23" fill="#fff" stroke="#000" stroke-width="3.2">0</text>
<text transform="translate(542.5,723.7) scale(1,1.07)" fill="#000" stroke="#fff" stroke-width="4.6">35.7</text>
<text transform="translate(656.9,715) scale(1,1.07)" fill="#000" stroke="#fff" stroke-width="4.6">17.2</text>
<text x="878" y="721.2" font-size="23" fill="#fff" stroke="#000" stroke-width="3.2">0</text>
<text x="744.4" y="768.7" font-size="23" fill="#fff" stroke="#000" stroke-width="3.2">0</text>
<text x="794.4" y="902.7" font-size="23" fill="#fff" stroke="#000" stroke-width="3.2">0</text>
<text x="746.2" y="968.7" font-size="23" fill="#fff" stroke="#000" stroke-width="3.2">0</text>
</g>
</svg>
<div class="dot" style="left:210px;background:#06509a"></div><div class="leg" style="left:252px">0–9</div>
<div class="dot" style="left:345px;background:#80a5a9"></div><div class="leg" style="left:387px">9–36</div>
<div class="dot" style="left:498px;background:#fffbbf"></div><div class="leg" style="left:540px">36–57</div>
<div class="dot" style="left:670px;background:#e6a17c"></div><div class="leg" style="left:712px">57–81</div>
<div class="dot" style="left:840px;background:#c9463d"></div><div class="leg" style="left:882px">81–200</div>
<svg width="44" height="44" viewBox="0 0 44 44" style="position:absolute;left:484px;top:1130.5px">
<defs>
<linearGradient id="sky" x1="0" y1="0" x2="1" y2="0"><stop offset="0" stop-color="#45cdfc"/><stop offset="1" stop-color="#3a92ef"/></linearGradient>
<linearGradient id="sun" x1="0" y1="1" x2="1" y2="0"><stop offset="0" stop-color="#ffc830"/><stop offset="1" stop-color="#ffe96e"/></linearGradient>
<clipPath id="cc"><circle cx="22" cy="22" r="22"/></clipPath>
</defs>
<g clip-path="url(#cc)">
<rect width="44" height="44" fill="url(#sky)"/>
<path fill="url(#sun)" d="M0,21.3 L13.8,21.3 L15,19.5 L16.8,21.3 L18,19 L20.5,9 L23,19.5 L24.5,21.3 L25.5,23 L27.5,28 L29.2,23 L30.5,20.5 L32,18.7 L33.5,21.3 L44,21.3 L44,44 L0,44Z"/>
</g>
</svg>
<div class="brand">Опендатабот</div>
</body>
</html>
